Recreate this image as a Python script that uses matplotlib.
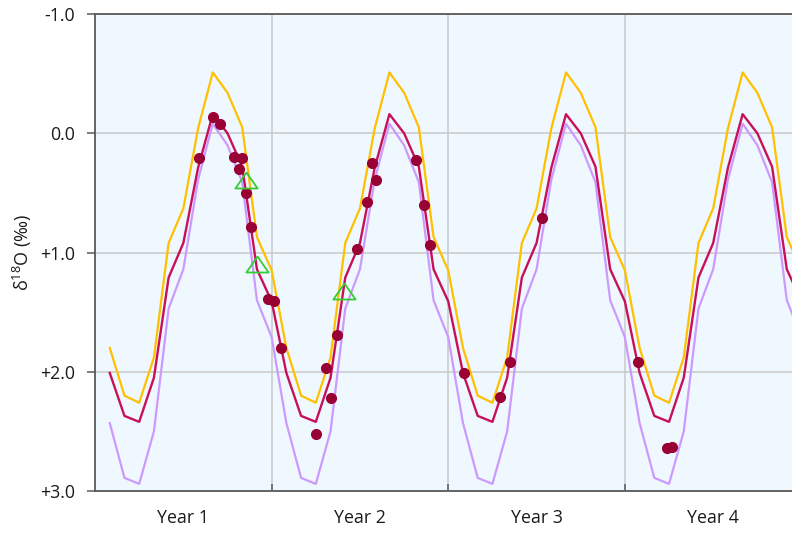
import matplotlib
matplotlib.use("Agg")
import matplotlib.pyplot as plt
import numpy as np

plt.rcParams['font.family'] = ['Open Sans', 'DejaVu Sans']
plt.rcParams['mathtext.default'] = 'regular'

# monthly model curves, months 1..48
months = np.arange(1, 49)
upper = [1.80, 2.20, 2.26, 1.88, 0.92, 0.63, -0.04, -0.51, -0.34, -0.05, 0.87, 1.15,
         1.80, 2.20, 2.26, 1.88, 0.92, 0.63, -0.04, -0.51, -0.34, -0.05, 0.87, 1.15,
         1.80, 2.20, 2.26, 1.88, 0.92, 0.63, -0.04, -0.51, -0.34, -0.05, 0.87, 1.15,
         1.80, 2.20, 2.26, 1.88, 0.92, 0.63, -0.04, -0.51, -0.34, -0.05, 0.87, 1.15]
middle = [2.01, 2.37, 2.42, 2.05, 1.21, 0.92, 0.29, -0.16, 0.00, 0.28, 1.14, 1.41,
          2.01, 2.37, 2.42, 2.05, 1.21, 0.92, 0.29, -0.16, 0.00, 0.28, 1.14, 1.41,
          2.01, 2.37, 2.42, 2.05, 1.21, 0.92, 0.29, -0.16, 0.00, 0.28, 1.14, 1.41,
          2.01, 2.37, 2.42, 2.05, 1.21, 0.92, 0.29, -0.16, 0.00, 0.28, 1.14, 1.41]
lower = [2.43, 2.89, 2.94, 2.50, 1.47, 1.14, 0.39, -0.08, 0.10, 0.41, 1.40, 1.71,
         2.43, 2.89, 2.94, 2.50, 1.47, 1.14, 0.39, -0.08, 0.10, 0.41, 1.40, 1.71,
         2.43, 2.89, 2.94, 2.50, 1.47, 1.14, 0.39, -0.08, 0.10, 0.41, 1.40, 1.71,
         2.43, 2.89, 2.94, 2.50, 1.47, 1.14, 0.39, -0.08, 0.10, 0.41, 1.40, 1.71]

# measured samples
sample_x = [7.09, 8.00, 8.50, 9.47, 10.01, 9.79, 10.27, 10.61, 11.72, 12.19, 12.65,
            14.98, 15.70, 16.00, 16.45, 17.79, 18.49, 18.79, 19.08, 21.80, 22.37, 22.77,
            25.08, 27.53, 28.21, 30.34, 36.89, 38.86, 39.20]
sample_y = [0.21, -0.14, -0.08, 0.20, 0.21, 0.30, 0.50, 0.79, 1.39, 1.41, 1.80,
            2.52, 1.97, 2.22, 1.69, 0.97, 0.58, 0.25, 0.39, 0.22, 0.60, 0.94,
            2.01, 2.21, 1.92, 0.71, 1.92, 2.64, 2.63]
tri_x = [10.26, 11.00, 16.93]
tri_y = [0.39, 1.10, 1.32]

year_labels = ['Year 1', 'Year 2', 'Year 3', 'Year 4']
yticks = [-1, 0, 1, 2, 3]
ytick_labels = ['-1.0', '0.0', '+1.0', '+2.0', '+3.0']

fig = plt.figure(figsize=(7.92, 5.35), dpi=100)
ax = fig.add_axes([0.12, 0.0822, 0.892, 0.8916])
ax.set_facecolor('#F0F8FF')

ax.plot(months, lower, color='#CC99FF', lw=1.6, zorder=3)
ax.plot(months, upper, color='#FFC000', lw=1.6, zorder=3)
ax.plot(months, middle, color='#C8105A', lw=1.7, zorder=4)
ax.plot(sample_x, sample_y, 'o', color='#990033', ms=7, zorder=5)

flat_tri = [(0, 0.72), (-1, -0.72), (1, -0.72), (0, 0.72)]
ax.plot(tri_x, tri_y, linestyle='none', marker=flat_tri, ms=16, mfc='none',
        mec='#33CC33', mew=1.3, zorder=6)

ax.set_xlim(0, 48)
ax.set_ylim(3, -1)

ax.set_yticks(yticks)
ax.set_yticklabels(ytick_labels)
ax.set_xticks([12, 24, 36, 48])
ax.set_xticklabels([])
ax.set_xticks([6, 18, 30, 42], minor=True)
ax.set_xticklabels(year_labels, minor=True)

ax.grid(True, color='#C8C8C8', lw=1.1, zorder=0)
ax.set_axisbelow(True)

ax.tick_params(axis='y', direction='out', length=6, width=1.1, color='#595959',
               labelsize=12.8, pad=8.5, labelcolor='#1a1a1a')
ax.tick_params(axis='x', which='major', direction='in', length=5, width=1.1, color='#595959')
ax.tick_params(axis='x', which='minor', length=0, labelsize=12.8, pad=13, labelcolor='#1a1a1a')

for side in ['left', 'bottom', 'top']:
    ax.spines[side].set_color('#595959')
    ax.spines[side].set_linewidth(1.3)
ax.spines['right'].set_visible(False)

ax.set_ylabel(r'δ$^{18}$O (‰)', fontsize=13, color='#1a1a1a')
ax.yaxis.set_label_coords(-0.086, 0.5)

fig.savefig('out.png', dpi=100)
